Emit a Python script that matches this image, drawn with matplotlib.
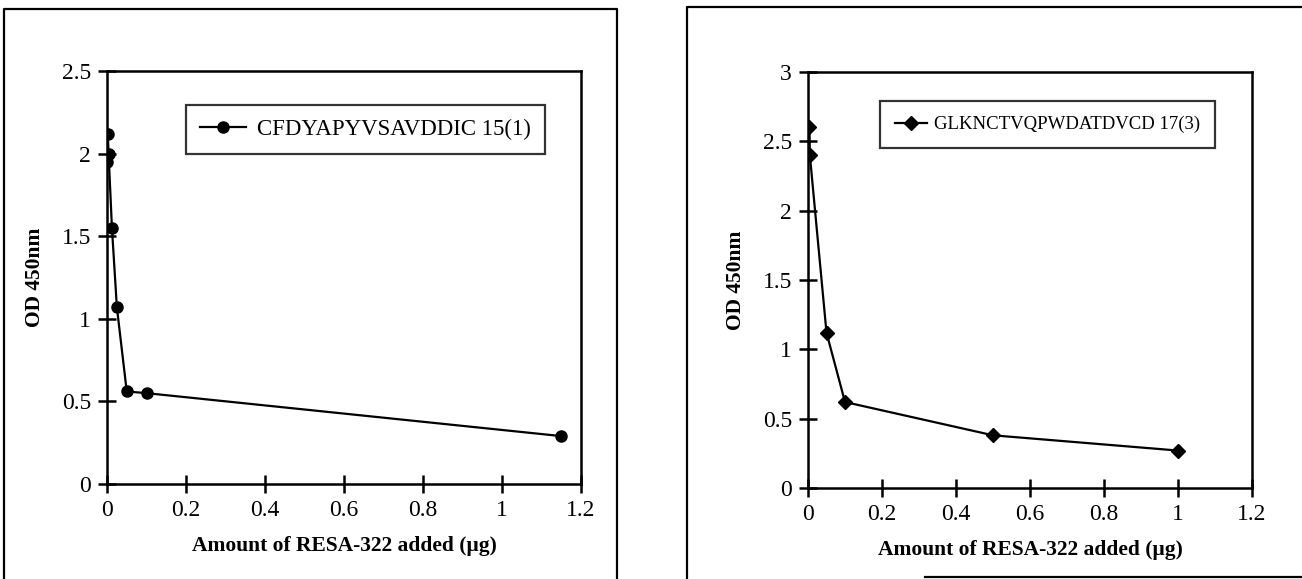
import numpy as np
import matplotlib.pyplot as plt
from matplotlib.lines import Line2D

plt.rcParams['font.family'] = ['Liberation Serif', 'DejaVu Serif']

# left panel: CFDYAPYVSAVDDIC 15(1)
x_left = [0.001, 0.002, 0.004, 0.0125, 0.025, 0.05, 0.1, 1.15]
y_left = [1.95, 2.12, 2.0, 1.55, 1.07, 0.56, 0.55, 0.29]
label_left = 'CFDYAPYVSAVDDIC 15(1)'

# right panel: GLKNCTVQPWDATDVCD 17(3)
x_right = [0.004, 0.005, 0.05, 0.1, 0.5, 1.0]
y_right = [2.6, 2.4, 1.12, 0.62, 0.38, 0.27]
label_right = 'GLKNCTVQPWDATDVCD 17(3)'

xticks = [0, 0.2, 0.4, 0.6, 0.8, 1, 1.2]
xticklabels = ['0', '0.2', '0.4', '0.6', '0.8', '1', '1.2']
yticks_left = [0, 0.5, 1, 1.5, 2, 2.5]
yticklabels_left = ['0', '0.5', '1', '1.5', '2', '2.5']
yticks_right = [0, 0.5, 1, 1.5, 2, 2.5, 3]
yticklabels_right = ['0', '0.5', '1', '1.5', '2', '2.5', '3']

W, H = 1302, 579


def px_rect(x0, y0, x1, y1):
    # pixel box (top-left origin) -> figure fraction [l, b, w, h]
    return [x0 / W, 1 - y1 / H, (x1 - x0) / W, (y1 - y0) / H]


def style_axes(ax, yticks, yticklabels, ymax):
    ax.set_xlim(0, 1.2)
    ax.set_ylim(0, ymax)
    ax.set_xticks(xticks)
    ax.set_xticklabels(xticklabels)
    ax.set_yticks(yticks)
    ax.set_yticklabels(yticklabels)
    for s in ax.spines.values():
        s.set_linewidth(1.8)
    ax.tick_params(direction='inout', length=13, width=1.8, labelsize=17, pad=5)
    ax.set_xlabel('Amount of RESA-322 added (\u03bcg)', fontsize=15.5, fontweight='bold', labelpad=11)
    ax.set_ylabel('OD 450nm', fontsize=15.5, fontweight='bold', labelpad=12)


fig = plt.figure(figsize=(W / 100, H / 100), dpi=100)

# outer frames around each panel
frame_kw = dict(color='k', linewidth=1.6, transform=fig.transFigure)
fig.add_artist(Line2D([4 / W, 4 / W, 617 / W, 617 / W], [0, 1 - 9 / H, 1 - 9 / H, 0], **frame_kw))
fig.add_artist(Line2D([687 / W, 687 / W, 1302 / W], [0, 1 - 7 / H, 1 - 7 / H], **frame_kw))
fig.add_artist(Line2D([925 / W, 1302 / W], [1 - 577 / H, 1 - 577 / H], **frame_kw))

ax1 = fig.add_axes(px_rect(107, 71, 581, 484))
ax1.plot(x_left, y_left, color='k', linewidth=1.6, marker='o', markersize=8, label=label_left)
style_axes(ax1, yticks_left, yticklabels_left, 2.5)
leg1 = ax1.legend(loc='upper left', bbox_to_anchor=(0.167, 0.918), borderaxespad=0, fontsize=16.5,
                  frameon=True, fancybox=False, edgecolor='k', handlelength=2.0, handletextpad=0.5,
                  borderpad=0.6)
leg1.get_frame().set_linewidth(1.6)

ax2 = fig.add_axes(px_rect(808, 72, 1252, 488))
ax2.plot(x_right, y_right, color='k', linewidth=1.6, marker='D', markersize=7, label=label_right)
style_axes(ax2, yticks_right, yticklabels_right, 3)
leg2 = ax2.legend(loc='upper left', bbox_to_anchor=(0.162, 0.93), borderaxespad=0, fontsize=13.5,
                  frameon=True, fancybox=False, edgecolor='k', handlelength=1.7, handletextpad=0.4,
                  borderpad=0.8)
leg2.get_frame().set_linewidth(1.6)

fig.savefig('out.png', dpi=100)
